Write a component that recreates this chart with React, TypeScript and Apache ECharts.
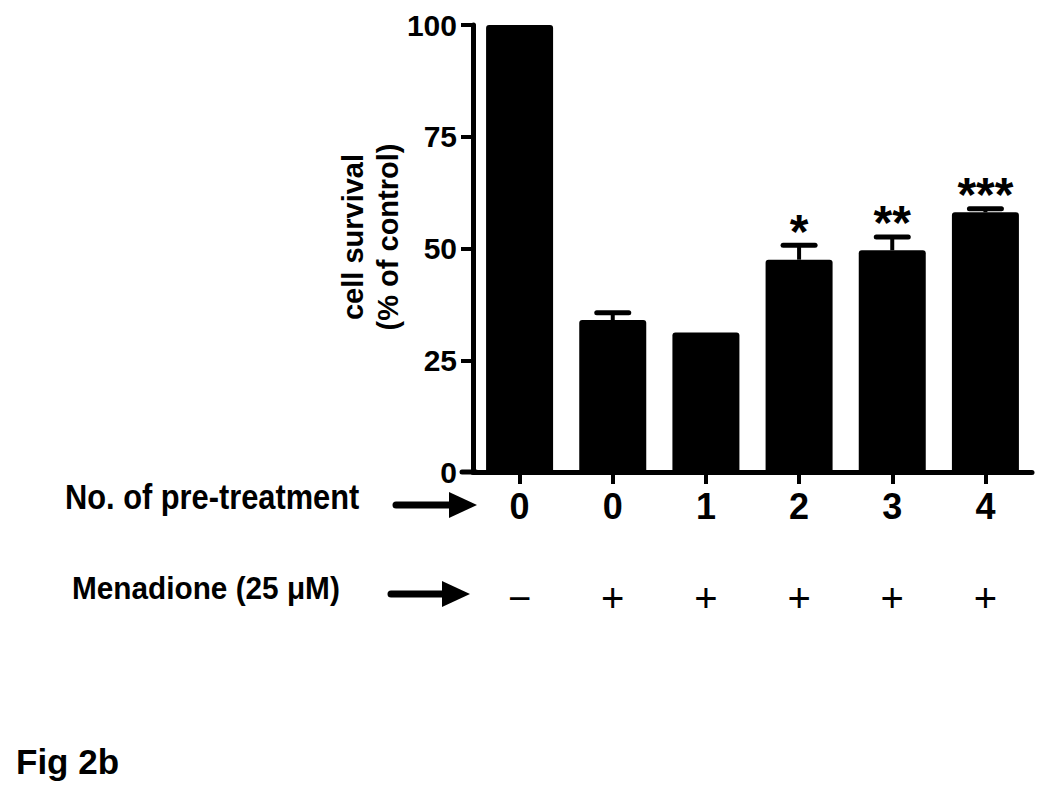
import React, { useEffect, useRef } from "react";
import * as echarts from "echarts";

const categories = ["0", "0", "1", "2", "3", "4"];
const menadione = ["\u2212", "+", "+", "+", "+", "+"];
const survival = [100, 34, 31.2, 47.5, 49.6, 58.1];
const sem = [0, 1.6, 0, 3.2, 3.0, 0.8];
const stars = ["", "", "", "*", "**", "***"];
const yMin = 0;
const yMax = 100;
const yInterval = 25;

const SANS = '"Liberation Sans", Arial, sans-serif';

export default function App() {
  const ref = useRef<HTMLDivElement>(null);
  useEffect(() => {
    if (!ref.current) return;
    const chart = echarts.init(ref.current, null, { renderer: "svg" });
    const arrow = (x1: number, x2: number, y: number) => [
      {
        type: "line",
        shape: { x1, y1: y, x2: x2 - 24, y2: y },
        style: { stroke: "#000", lineWidth: 7, lineCap: "round" },
      },
      {
        type: "polygon",
        shape: { points: [[x2 - 28, y - 13], [x2, y], [x2 - 28, y + 13]] },
        style: { fill: "#000" },
      },
    ];
    const option: any = {
      animation: false,
      backgroundColor: "#fff",
      grid: { left: 473, right: 18, top: 25, bottom: 319, containLabel: false },
      xAxis: [
        {
          type: "category",
          data: categories,
          axisLine: { show: true, lineStyle: { color: "#000", width: 5, cap: "round" } },
          axisTick: { show: true, alignWithLabel: true, length: 12, lineStyle: { color: "#000", width: 4 } },
          axisLabel: { color: "#000", fontSize: 36, fontWeight: "bold", fontFamily: SANS, margin: 16 },
        },
        {
          type: "category",
          data: menadione,
          position: "bottom",
          axisLine: { show: false },
          axisTick: { show: false },
          axisLabel: { color: "#000", fontSize: 40, fontFamily: SANS, margin: 106 },
        },
      ],
      yAxis: {
        type: "value",
        min: yMin,
        max: yMax,
        interval: yInterval,
        axisLine: { show: true, lineStyle: { color: "#000", width: 5 } },
        axisTick: { show: true, length: 12, lineStyle: { color: "#000", width: 4 } },
        splitLine: { show: false },
        axisLabel: { color: "#000", fontSize: 30, fontWeight: "bold", fontFamily: SANS, margin: 16 },
      },
      series: [
        {
          type: "bar",
          data: survival,
          barWidth: 67,
          itemStyle: { color: "#000", borderRadius: [3, 3, 0, 0] },
        },
        {
          type: "custom",
          data: survival.map((v, i) => [i, v, sem[i]]),
          z: 5,
          renderItem: (params: any, api: any) => {
            const idx = params.dataIndex;
            const v = api.value(1);
            const e = api.value(2);
            const base = api.coord([idx, v]);
            const top = api.coord([idx, v + e]);
            const children: any[] = [];
            if (e > 0) {
              children.push({
                type: "line",
                shape: { x1: base[0], y1: base[1], x2: top[0], y2: top[1] },
                style: { stroke: "#000", lineWidth: 4 },
              });
              children.push({
                type: "line",
                shape: { x1: top[0] - 16, y1: top[1], x2: top[0] + 16, y2: top[1] },
                style: { stroke: "#000", lineWidth: 5, lineCap: "round" },
              });
            }
            const s = stars[idx];
            if (s) {
              children.push({
                type: "text",
                style: {
                  x: top[0],
                  y: top[1] - 14,
                  text: s,
                  font: "bold 48px " + SANS,
                  fill: "#000",
                  align: "center",
                  verticalAlign: "middle",
                },
              });
            }
            return { type: "group", children };
          },
        },
      ],
      graphic: [
        {
          type: "line",
          shape: { x1: 462, y1: 472, x2: 476, y2: 472 },
          style: { stroke: "#000", lineWidth: 5, lineCap: "round" },
        },
        {
          type: "text",
          x: 370,
          y: 237,
          rotation: Math.PI / 2,
          style: {
            text: "cell survival\n(% of control)",
            font: "bold 29px " + SANS,
            fill: "#000",
            align: "center",
            verticalAlign: "middle",
            lineHeight: 35,
          },
        },
        {
          type: "text",
          x: 65,
          y: 497,
          scaleX: 0.88,
          style: {
            text: "No. of pre-treatment",
            font: "bold 35px " + SANS,
            fill: "#000",
            align: "left",
            verticalAlign: "middle",
          },
        },
        {
          type: "text",
          x: 72,
          y: 588,
          scaleX: 0.93,
          style: {
            text: "Menadione (25 \u03bcM)",
            font: "bold 32px " + SANS,
            fill: "#000",
            align: "left",
            verticalAlign: "middle",
          },
        },
        ...arrow(396, 477, 505),
        ...arrow(391, 470, 594),
        {
          type: "text",
          x: 16,
          y: 761,
          style: {
            text: "Fig 2b",
            font: "bold 35px " + SANS,
            fill: "#000",
            align: "left",
            verticalAlign: "middle",
          },
        },
      ],
    };
    chart.setOption(option);
    return () => chart.dispose();
  }, []);
  return (
    <div
      ref={ref}
      style={{ position: "absolute", left: 0, top: 0, width: 1050, height: 791, background: "#fff" }}
    />
  );
}
